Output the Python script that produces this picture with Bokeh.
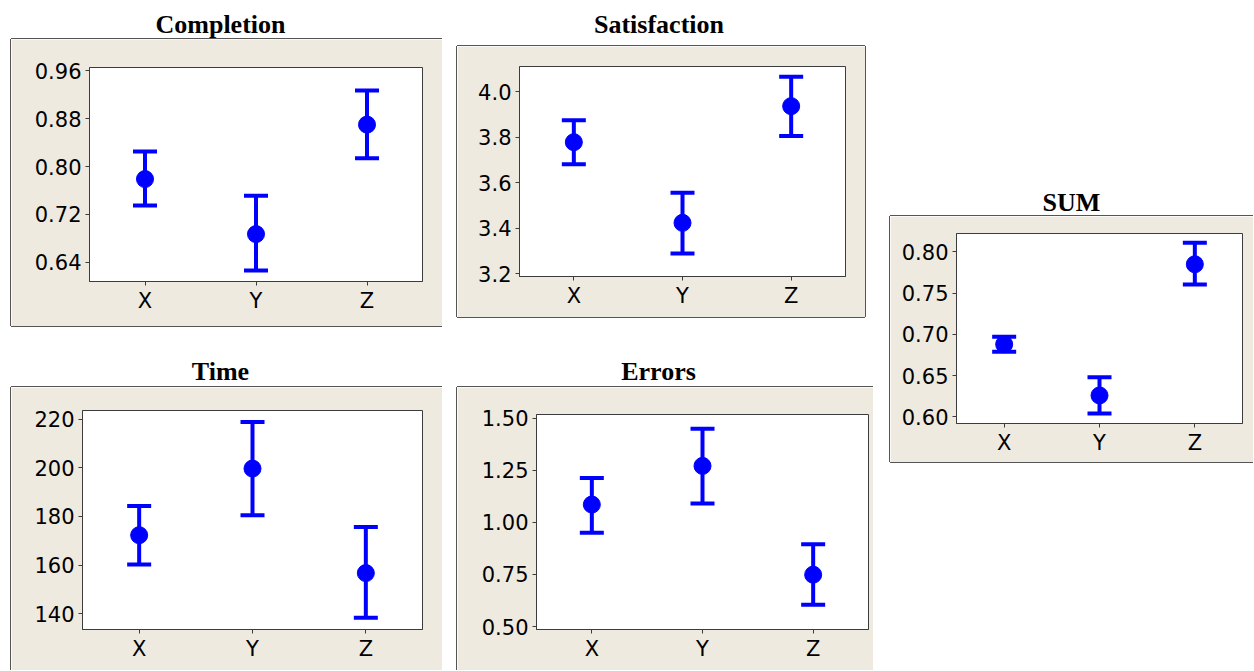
from bokeh.plotting import figure
from bokeh.layouts import row, column
from bokeh.models import (ColumnDataSource, Whisker, TeeHead, FixedTicker,
                          NumeralTickFormatter, Range1d, FactorRange, Div, Spacer)
from bokeh.embed import file_html
from bokeh.resources import INLINE

# ---------------- data ----------------
groups = ["X", "Y", "Z"]

completion_mean = [0.779, 0.687, 0.870]
completion_lower = [0.735, 0.626, 0.814]
completion_upper = [0.825, 0.751, 0.927]
completion_ticks = [0.64, 0.72, 0.80, 0.88, 0.96]

satisfaction_mean = [3.778, 3.424, 3.936]
satisfaction_lower = [3.681, 3.289, 3.805]
satisfaction_upper = [3.874, 3.556, 4.065]
satisfaction_ticks = [3.2, 3.4, 3.6, 3.8, 4.0]

sum_mean = [0.688, 0.626, 0.785]
sum_lower = [0.679, 0.604, 0.7605]
sum_upper = [0.697, 0.648, 0.811]
sum_ticks = [0.60, 0.65, 0.70, 0.75, 0.80]

time_mean = [172.3, 199.7, 156.7]
time_lower = [160.2, 180.5, 138.3]
time_upper = [184.3, 218.9, 175.7]
time_ticks = [140, 160, 180, 200, 220]

errors_mean = [1.086, 1.272, 0.749]
errors_lower = [0.951, 1.091, 0.605]
errors_upper = [1.214, 1.450, 0.895]
errors_ticks = [0.50, 0.75, 1.00, 1.25, 1.50]

# ---------------- style ----------------
BEIGE = "#EEEAE0"
FRAME = "#3c3c3c"
BOXLINE = "#555555"
BLUE = "#0000FF"
TICK_FONT = "DejaVu Sans"
TICK_SIZE = "21px"


def shadow(sides):
    parts = []
    if "l" in sides:
        parts.append(f"-1px 0 0 0 {BOXLINE}")
    if "t" in sides:
        parts.append(f"0 -1px 0 0 {BOXLINE}")
    if "b" in sides:
        parts.append(f"0 1px 0 0 {BOXLINE}")
    if "r" in sides:
        parts.append(f"1px 0 0 0 {BOXLINE}")
    return ", ".join(parts)


def panel(mean, lower, upper, ticks, yr, fmt, w, h, ml, mt, mr, mb, sides):
    src = ColumnDataSource(dict(g=groups, m=mean, lo=lower, hi=upper))
    p = figure(x_range=FactorRange(factors=groups), y_range=Range1d(*yr),
               width=w, height=h, output_backend="svg", toolbar_location=None,
               tools="", min_border_left=ml, min_border_top=mt,
               min_border_right=mr, min_border_bottom=mb,
               background_fill_color="white", border_fill_color=BEIGE,
               outline_line_color=FRAME, outline_line_width=1,
               styles={"box-shadow": shadow(sides)})
    p.grid.visible = False
    wh = Whisker(source=src, base="g", lower="lo", upper="hi",
                 line_color=BLUE, line_width=4,
                 upper_head=TeeHead(size=24, line_color=BLUE, line_width=4),
                 lower_head=TeeHead(size=24, line_color=BLUE, line_width=4))
    p.add_layout(wh)
    p.scatter("g", "m", source=src, size=17, color=BLUE)
    p.yaxis.ticker = FixedTicker(ticks=ticks)
    p.yaxis.formatter = NumeralTickFormatter(format=fmt)
    for ax in (p.xaxis[0], p.yaxis[0]):
        ax.axis_line_color = FRAME
        ax.major_tick_line_color = FRAME
        ax.major_tick_out = 4
        ax.major_tick_in = 0
        ax.minor_tick_out = 0
        ax.minor_tick_in = 0
        ax.major_label_text_font = TICK_FONT
        ax.major_label_text_font_size = TICK_SIZE
        ax.major_label_text_color = "black"
    p.xaxis.major_label_standoff = 3
    p.yaxis.major_label_standoff = 4
    return p


def title_div(text, w, h, pad, pad_left=0):
    html = ("<div style=\"font-family:'Liberation Serif','Times New Roman',serif;"
            "font-weight:bold;font-size:26px;line-height:26px;text-align:center;"
            f"color:#000;padding-top:{pad}px;padding-left:{pad_left}px;"
            f"white-space:nowrap;width:{w - pad_left}px\">{text}</div>")
    return Div(text=html, width=w, height=h, margin=(0, 0, 0, 0))


def sp(w, h):
    return Spacer(width=w, height=h, margin=(0, 0, 0, 0))


fig_c = panel(completion_mean, completion_lower, completion_upper, completion_ticks,
              (0.6078, 0.9655), "0.00", 431, 287, 78, 28, 20, 45, "ltb")
fig_t = panel(time_mean, time_lower, time_upper, time_ticks,
              (133.5, 223.6), "0", 431, 283, 71, 23, 20, 41, "lt")
fig_s = panel(satisfaction_mean, satisfaction_lower, satisfaction_upper, satisfaction_ticks,
              (3.1886, 4.11), "0.0", 408, 271, 62, 20, 20, 41, "ltbr")
fig_e = panel(errors_mean, errors_lower, errors_upper, errors_ticks,
              (0.4856, 1.519), "0.00", 416, 283, 79, 27, 5, 41, "lt")
fig_u = panel(sum_mean, sum_lower, sum_upper, sum_ticks,
              (0.592, 0.8223), "0.00", 363, 246, 66, 17, 11, 39, "ltb")

col_a = column(title_div("Completion", 425, 31, 3.5),
               row(sp(3, 287), fig_c),
               title_div("Time", 425, 61, 32.9),
               row(sp(3, 283), fig_t))
col_b = column(row(sp(15, 38), title_div("Satisfaction", 404, 38, 3.5)),
               row(sp(15, 271), fig_s),
               row(sp(15, 70), title_div("Errors", 403, 70, 41.9)),
               row(sp(15, 283), fig_e))
col_c = column(row(sp(17, 208), title_div("SUM", 363, 208, 181.9, 28)),
               row(sp(17, 246), fig_u))

body = row(col_a, col_b, col_c)
root = row(sp(8, 662), column(sp(1245, 8), body))

open("out.html", "w").write(file_html(root, INLINE))
